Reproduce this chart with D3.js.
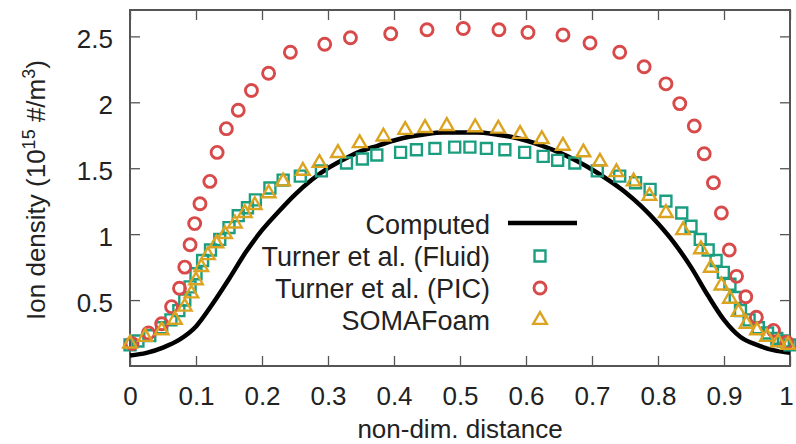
<!DOCTYPE html>
<html>
<head>
<meta charset="utf-8">
<script src="https://cdn.jsdelivr.net/npm/d3@7"></script>
<style>
 body { margin: 0; background: #fff; }
 text { font-family: "Liberation Sans", Arial, sans-serif; fill: #222; }
</style>
</head>
<body>
<div id="chart"></div>
<script>
// data: [non-dim. distance, ion density]
var computed = [
 [0, 0.08], [0.025, 0.10], [0.05, 0.14], [0.075, 0.2], [0.1, 0.3], [0.125, 0.47],
 [0.15, 0.66], [0.175, 0.86], [0.2, 1.03], [0.225, 1.17], [0.25, 1.3], [0.275, 1.41],
 [0.3, 1.5], [0.325, 1.57], [0.35, 1.63], [0.375, 1.67], [0.4, 1.71], [0.425, 1.74],
 [0.45, 1.76], [0.475, 1.77], [0.5, 1.77], [0.525, 1.77], [0.55, 1.76], [0.575, 1.74],
 [0.6, 1.71], [0.625, 1.67], [0.65, 1.62], [0.675, 1.56], [0.7, 1.49], [0.725, 1.41],
 [0.75, 1.32], [0.775, 1.21], [0.8, 1.08], [0.825, 0.93], [0.85, 0.75], [0.875, 0.54],
 [0.9, 0.35], [0.925, 0.22], [0.95, 0.16], [0.975, 0.12], [1, 0.10]
];

var fluid = [
 [0, 0.16], [0.012, 0.19], [0.03, 0.23], [0.048, 0.29], [0.062, 0.35], [0.074, 0.42],
 [0.083, 0.5], [0.091, 0.6], [0.1, 0.7], [0.11, 0.8], [0.122, 0.88], [0.136, 0.96],
 [0.15, 1.05], [0.164, 1.14], [0.178, 1.2], [0.19, 1.26], [0.212, 1.35], [0.232, 1.41],
 [0.258, 1.44], [0.29, 1.48], [0.328, 1.54], [0.352, 1.57], [0.374, 1.6], [0.41, 1.62],
 [0.434, 1.64], [0.462, 1.65], [0.492, 1.66], [0.515, 1.66], [0.54, 1.65], [0.568, 1.64],
 [0.598, 1.62], [0.626, 1.59], [0.648, 1.56], [0.674, 1.54], [0.708, 1.48], [0.742, 1.44],
 [0.766, 1.39], [0.788, 1.34], [0.812, 1.25], [0.836, 1.16], [0.85, 1.06], [0.864, 0.96],
 [0.876, 0.88], [0.888, 0.8], [0.899, 0.71], [0.909, 0.62], [0.917, 0.52], [0.925, 0.42],
 [0.938, 0.35], [0.952, 0.29], [0.966, 0.25], [0.98, 0.21], [0.99, 0.19], [1, 0.16]
];

var pic = [
 [0.003, 0.17], [0.028, 0.25], [0.048, 0.32], [0.063, 0.45], [0.075, 0.59], [0.083, 0.75],
 [0.091, 0.92], [0.098, 1.08], [0.106, 1.23], [0.121, 1.40], [0.132, 1.62], [0.146, 1.80],
 [0.164, 1.94], [0.184, 2.09], [0.21, 2.22], [0.243, 2.38], [0.295, 2.44], [0.334, 2.49],
 [0.395, 2.52], [0.45, 2.55], [0.505, 2.56], [0.559, 2.55], [0.603, 2.53], [0.656, 2.51],
 [0.697, 2.45], [0.742, 2.38], [0.779, 2.27], [0.812, 2.14], [0.833, 1.99], [0.855, 1.82],
 [0.870, 1.61], [0.884, 1.39], [0.896, 1.16], [0.908, 0.88], [0.919, 0.68], [0.933, 0.525],
 [0.949, 0.37], [0.975, 0.27], [0.995, 0.18]
];

var somafoam = [
 [0, 0.17], [0.023, 0.22], [0.048, 0.27], [0.068, 0.35], [0.083, 0.45], [0.093, 0.55],
 [0.1, 0.65], [0.108, 0.75], [0.118, 0.84], [0.131, 0.93], [0.144, 1.0], [0.159, 1.08],
 [0.174, 1.16], [0.189, 1.22], [0.21, 1.31], [0.232, 1.40], [0.262, 1.48], [0.287, 1.54],
 [0.315, 1.615], [0.348, 1.69], [0.384, 1.74], [0.417, 1.79], [0.447, 1.805], [0.48, 1.82],
 [0.523, 1.81], [0.558, 1.80], [0.591, 1.76], [0.624, 1.72], [0.656, 1.67], [0.687, 1.62],
 [0.712, 1.55], [0.737, 1.47], [0.763, 1.40], [0.787, 1.29], [0.812, 1.16], [0.838, 1.03],
 [0.865, 0.885], [0.88, 0.745], [0.896, 0.61], [0.909, 0.51], [0.922, 0.41], [0.934, 0.32],
 [0.95, 0.27], [0.965, 0.22], [0.982, 0.18], [0.997, 0.16]
];

var xTicks = [0, 0.1, 0.2, 0.3, 0.4, 0.5, 0.6, 0.7, 0.8, 0.9, 1];
var yTicks = [0.5, 1, 1.5, 2, 2.5];
var legendNames = ["Computed", "Turner et al. (Fluid)", "Turner et al. (PIC)", "SOMAFoam"];

// colours
var red = "#d84a4a", teal = "#1b9e80", gold = "#dca320";

// set the dimensions and margins of the graph
var margin = { top: 10, right: 6, bottom: 78, left: 130 },
 width = 796 - margin.left - margin.right,
 height = 444 - margin.top - margin.bottom;

// set the ranges
var x = d3.scaleLinear().domain([0, 1]).range([0, width]);
var y = d3.scaleLinear().domain([0, 2.7]).range([height, 0]);

var svg = d3.select("#chart").append("svg")
 .attr("width", 796)
 .attr("height", 444)
 .append("g")
 .attr("transform", "translate(" + margin.left + "," + margin.top + ")");

// axes, ticks pointing inwards, mirrored on top and right
var xAxis = svg.append("g")
 .attr("transform", "translate(0," + height + ")")
 .call(d3.axisBottom(x).tickValues(xTicks).tickSize(-10).tickPadding(21)
   .tickFormat(d3.format("")));
svg.append("g")
 .call(d3.axisTop(x).tickValues(xTicks).tickSize(-10).tickFormat(""));
svg.append("g")
 .call(d3.axisLeft(y).tickValues(yTicks).tickSize(-10).tickPadding(17)
   .tickFormat(d3.format("")));
svg.append("g")
 .attr("transform", "translate(" + width + ",0)")
 .call(d3.axisRight(y).tickValues(yTicks).tickSize(-10).tickFormat(""));

svg.selectAll(".domain").remove();
svg.selectAll(".tick line").attr("stroke", "#555").attr("stroke-width", 1.3);
svg.selectAll(".tick text").style("font-size", "26px").attr("fill", "#222");
svg.selectAll(".tick text").filter(function () { return this.parentNode.parentNode.getAttribute("text-anchor") === "end"; })
 .attr("dy", "0.44em");

// keep the last "1" inside the page
xAxis.selectAll(".tick text").filter(function (d) { return d === 1; })
 .attr("x", -4);

// frame
svg.append("rect")
 .attr("width", width)
 .attr("height", height)
 .attr("fill", "none")
 .attr("stroke", "#555")
 .attr("stroke-width", 2);

// computed line
var line = d3.line()
 .x(function (d) { return x(d[0]); })
 .y(function (d) { return y(d[1]); })
 .curve(d3.curveMonotoneX);

svg.append("path")
 .datum(computed)
 .attr("fill", "none")
 .attr("stroke", "#000")
 .attr("stroke-width", 4.5)
 .attr("d", line);

// markers
var square = d3.symbol().type(d3.symbolSquare).size(120);
var triangle = d3.symbol().type(d3.symbolTriangle).size(80);

svg.append("g").selectAll("path")
 .data(fluid)
 .enter().append("path")
 .attr("d", square)
 .attr("transform", function (d) { return "translate(" + x(d[0]) + "," + y(d[1]) + ")"; })
 .attr("fill", "none")
 .attr("stroke", teal)
 .attr("stroke-width", 2.4);

svg.append("g").selectAll("circle")
 .data(pic)
 .enter().append("circle")
 .attr("cx", function (d) { return x(d[0]); })
 .attr("cy", function (d) { return y(d[1]); })
 .attr("r", 6)
 .attr("fill", "none")
 .attr("stroke", red)
 .attr("stroke-width", 2.9);

svg.append("g").selectAll("path")
 .data(somafoam)
 .enter().append("path")
 .attr("d", triangle)
 .attr("transform", function (d) { return "translate(" + x(d[0]) + "," + y(d[1]) + ")"; })
 .attr("fill", "none")
 .attr("stroke", gold)
 .attr("stroke-width", 2.4);

// legend
var legend = svg.append("g");
legendNames.forEach(function (name, i) {
 var ly = 214 + i * 32;
 legend.append("text")
   .attr("x", 360)
   .attr("y", ly)
   .attr("dy", "0.36em")
   .attr("text-anchor", "end")
   .style("font-size", "27px")
   .text(name);
 var sx = 410;
 if (i === 0) {
   legend.append("line")
     .attr("x1", 378).attr("x2", 447)
     .attr("y1", ly - 1).attr("y2", ly - 1)
     .attr("stroke", "#000").attr("stroke-width", 4.5);
 } else if (i === 1) {
   legend.append("path").attr("d", square)
     .attr("transform", "translate(" + sx + "," + ly + ")")
     .attr("fill", "none").attr("stroke", teal).attr("stroke-width", 2.4);
 } else if (i === 2) {
   legend.append("circle").attr("cx", sx).attr("cy", ly).attr("r", 6)
     .attr("fill", "none").attr("stroke", red).attr("stroke-width", 2.9);
 } else {
   legend.append("path").attr("d", triangle)
     .attr("transform", "translate(" + sx + "," + ly + ")")
     .attr("fill", "none").attr("stroke", gold).attr("stroke-width", 2.4);
 }
});

// axis labels
svg.append("text")
 .attr("x", width / 2)
 .attr("y", height + 72)
 .attr("text-anchor", "middle")
 .style("font-size", "26px")
 .text("non-dim. distance");

var ylab = svg.append("text")
 .attr("transform", "translate(" + (-85) + "," + (height / 2 + 2) + ") rotate(-90)")
 .attr("text-anchor", "middle")
 .style("font-size", "26px");
ylab.append("tspan").text("Ion density (10");
ylab.append("tspan").attr("dy", -10).style("font-size", "18px").text("15");
ylab.append("tspan").attr("dy", 10).text(" #/m");
ylab.append("tspan").attr("dy", -10).style("font-size", "18px").text("3");
ylab.append("tspan").attr("dy", 10).text(")");
</script>
</body>
</html>
